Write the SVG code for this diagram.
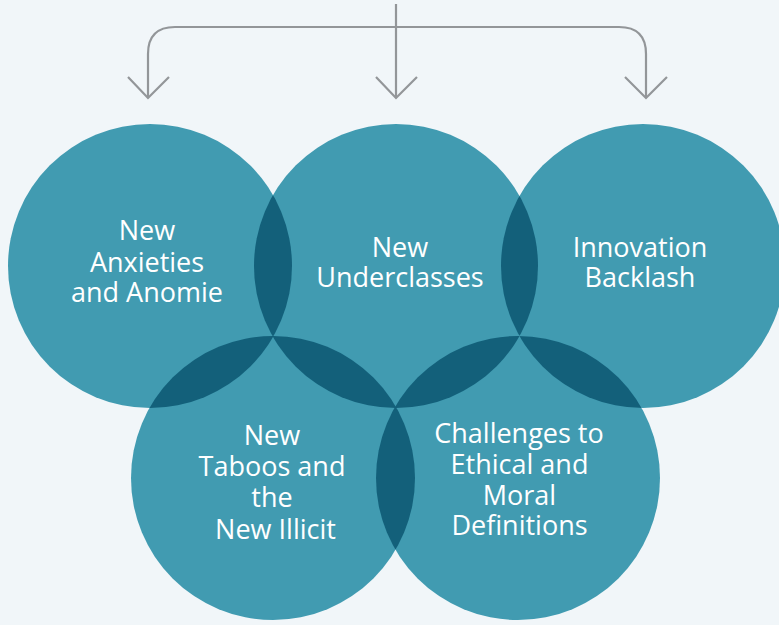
<svg xmlns="http://www.w3.org/2000/svg" width="779" height="625" viewBox="0 0 779 625">
<style>
.c{fill:#419bb1}
.o{fill:#13607a}
.t{fill:#ffffff;font-family:"Open Sans","DejaVu Sans",sans-serif;font-size:27px;text-anchor:middle}
.ln{fill:none;stroke:#939699;stroke-width:2.2}
</style>
<defs>
<clipPath id="kL"><circle cx="150" cy="266" r="142"/></clipPath>
<clipPath id="kM"><circle cx="396" cy="266" r="142"/></clipPath>
<clipPath id="kR"><circle cx="643" cy="266" r="142"/></clipPath>
<clipPath id="kBL"><circle cx="273" cy="478" r="142"/></clipPath>
<clipPath id="kBR"><circle cx="518" cy="478" r="142"/></clipPath>
</defs>
<rect width="779" height="625" fill="#f1f6f9"/>
<g id="connectors" class="ln">
<path d="M396 4 V98"/>
<path d="M148 98 V54 Q148 27 175 27 H619 Q646 27 646 54 V98"/>
<polyline points="128,77 148,98 169,77"/>
<polyline points="376,77 396,98 417,77"/>
<polyline points="625,77 646,98 667,77"/>
</g>
<g id="node-anxieties"><circle class="c" cx="150" cy="266" r="142"/></g>
<g id="node-underclasses"><circle class="c" cx="396" cy="266" r="142"/></g>
<g id="node-backlash"><circle class="c" cx="643" cy="266" r="142"/></g>
<g id="node-taboos"><circle class="c" cx="273" cy="478" r="142"/></g>
<g id="node-challenges"><circle class="c" cx="518" cy="478" r="142"/></g>
<g id="overlaps" class="o">
<circle cx="150" cy="266" r="142" clip-path="url(#kM)"/>
<circle cx="150" cy="266" r="142" clip-path="url(#kBL)"/>
<circle cx="396" cy="266" r="142" clip-path="url(#kR)"/>
<circle cx="396" cy="266" r="142" clip-path="url(#kBL)"/>
<circle cx="396" cy="266" r="142" clip-path="url(#kBR)"/>
<circle cx="643" cy="266" r="142" clip-path="url(#kBR)"/>
<circle cx="273" cy="478" r="142" clip-path="url(#kBR)"/>
</g>
<g id="labels" class="t">
<text x="147" y="240">New</text>
<text x="147" y="271.5">Anxieties</text>
<text x="147" y="302">and Anomie</text>
<text x="400" y="256.5">New</text>
<text x="400" y="287">Underclasses</text>
<text x="640" y="256.5">Innovation</text>
<text x="640" y="287">Backlash</text>
<text x="272" y="444.5">New</text>
<text x="272" y="476">Taboos and</text>
<text x="272" y="507">the</text>
<text x="275.5" y="538.5">New Illicit</text>
<text x="519" y="442.5">Challenges to</text>
<text x="519.5" y="473.5">Ethical and</text>
<text x="519.5" y="504.5">Moral</text>
<text x="519.5" y="535">Definitions</text>
</g>
</svg>
